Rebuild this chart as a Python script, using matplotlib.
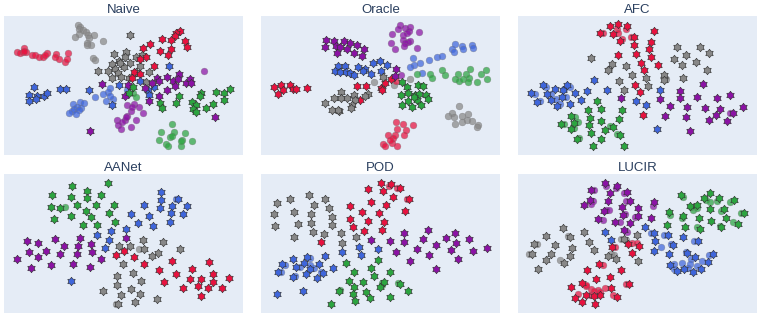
import matplotlib
matplotlib.use("Agg")
import numpy as np
import matplotlib.pyplot as plt
from matplotlib.path import Path

plt.rcParams['font.family'] = ['Liberation Sans', 'DejaVu Sans']

# t-SNE style positions, one dict per panel: colour -> (x, y) pairs
naive_circles = {
    'red': [(51,156),(60,160),(73,143),(70,157),(78,155),(96,164),(106,166),(116,172),(128,170),(141,158),(134,165),(168,162),(165,171),(176,178),(195,187),(200,177),(203,158),(72,152)],
    'gray': [(233,74),(240,80),(237,88),(248,90),(258,97),(237,103),(224,112),(265,106),(283,105),(267,115),(262,128),(272,135),(262,135),(309,124),(279,175),(286,179)],
    'blue': [(330,266),(325,278),(308,283),(284,292),(318,303),(340,297),(330,290),(239,308),(252,311),(218,313),(243,325),(232,322),(222,327),(215,335),(236,330),(228,343),(208,340),(382,272)],
    'purple': [(614,212),(381,315),(403,313),(418,322),(431,340),(395,333),(398,322),(381,348),(350,361),(409,361),(375,360),(365,368),(355,375),(362,388),(395,382),(378,352)],
    'green': [(517,373),(485,397),(478,420),(510,412),(522,398),(516,410),(556,400),(548,420),(576,423),(543,440),(498,434),(505,440),(545,425),(400,280),(410,291)],
}
naive_stars = {
    'gray': [(391,106),(341,161),(378,157),(376,170),(410,170),(427,166),(358,182),(335,193),(392,190),(325,212),(345,207),(373,202),(354,220),(293,214),(337,234),(362,232),(420,197),(449,216),(408,215),(388,235),(440,247),(360,190)],
    'red': [(540,92),(530,98),(526,108),(514,120),(487,117),(450,131),(431,143),(557,124),(561,140),(480,152),(513,148),(505,165),(438,171),(422,177),(463,197),(402,215),(421,221),(398,233)],
    'blue': [(103,262),(88,285),(110,288),(87,305),(107,297),(131,288),(141,281),(181,269),(198,268),(267,270),(357,256),(420,244),(508,199),(463,263),(445,272),(448,285),(336,316)],
    'purple': [(307,251),(386,255),(376,289),(435,264),(457,250),(472,234),(477,244),(502,230),(519,243),(538,221),(535,238),(558,248),(570,237),(575,248),(526,257),(503,271),(477,289),(447,304),(646,352),(269,395)],
    'green': [(400,261),(388,280),(537,289),(480,311),(487,324),(528,310),(603,281),(600,290),(578,307),(590,315),(581,328),(590,338),(618,325),(639,312),(649,277),(672,281),(690,267),(674,301)],
}

oracle_circles = {
    'purple': [(436,74),(428,88),(449,83),(465,80),(461,92),(455,100),(411,102),(493,96),(443,105),(443,120),(465,122),(458,125),(450,130),(448,138),(409,128),(420,148),(486,144),(437,225)],
    'blue': [(600,133),(590,148),(598,155),(620,138),(625,148),(650,135),(655,145),(545,172),(560,168),(522,180),(475,175),(494,190),(478,196),(465,200),(502,218)],
    'green': [(487,222),(526,223),(530,234),(562,210),(571,225),(608,222),(632,221),(646,207),(600,238),(611,243),(625,237),(642,235),(640,245),(665,246),(677,223),(692,211),(697,236)],
    'gray': [(613,320),(590,340),(578,350),(598,352),(620,348),(640,342),(600,372),(622,368),(635,360),(650,365),(668,375),(665,382),(355,246),(416,255),(465,237)],
    'red': [(423,367),(443,372),(475,375),(427,387),(452,390),(447,405),(400,405),(420,405),(413,415),(385,432),(390,440),(410,430),(427,440),(405,420),(423,243)],
}
oracle_stars = {
    'red': [(57,263),(76,255),(104,255),(112,268),(122,268),(82,272),(68,283),(156,266),(304,260),(332,260),(313,302),(378,265),(390,250),(409,237),(380,270)],
    'purple': [(212,120),(235,122),(208,142),(243,138),(265,124),(283,128),(255,142),(275,148),(304,134),(296,160),(325,148),(320,168),(246,159),(424,207),(419,227)],
    'blue': [(248,198),(268,198),(240,212),(254,215),(272,215),(285,220),(296,225),(308,200),(330,207),(347,222),(352,190),(373,183),(395,196),(378,212),(322,212)],
    'gray': [(258,277),(235,295),(210,309),(230,330),(250,335),(248,330),(256,295),(276,295),(296,285),(300,300),(290,315),(286,325),(337,282),(328,288),(385,232)],
    'green': [(440,247),(456,262),(490,255),(503,257),(437,287),(460,281),(480,285),(493,283),(512,287),(520,298),(485,302),(460,305),(440,317),(470,322),(497,315),(478,292)],
}

afc_circles = {
    'red': [(276,100),(318,88),(322,98),(345,87),(332,118),(360,112)],
    'blue': [(73,282),(88,305),(105,262),(120,283),(135,298),(148,312),(165,292),(178,262),(160,268)],
    'green': [(192,352),(202,368),(158,372),(190,385),(205,415),(298,380),(318,403)],
    'purple': [(658,340)],
    'gray': [(295,208),(465,238)],
}
afc_stars = {
    'red': [(297,78),(321,73),(349,79),(266,99),(306,101),(326,122),(370,110),(368,135),(420,125),(430,94),(416,148),(376,163),(422,171),(322,165),(390,188),(443,194),(400,210),(373,256),(388,277),(398,347)],
    'gray': [(241,175),(303,192),(290,210),(344,199),(362,226),(325,242),(407,234),(413,257),(338,270),(461,224),(460,240),(518,234),(498,141),(568,142),(594,158),(527,164),(490,176),(515,195),(556,187),(589,210)],
    'blue': [(97,255),(60,281),(79,308),(108,282),(131,268),(157,270),(169,255),(192,279),(120,302),(152,291),(137,318),(177,314),(211,302),(229,275),(248,240),(288,270),(375,305),(407,317),(449,272),(438,387)],
    'purple': [(331,296),(448,298),(509,274),(507,295),(578,253),(559,293),(620,295),(657,286),(477,318),(529,322),(583,325),(628,329),(698,321),(463,348),(525,351),(615,345),(595,360),(667,341),(648,364),(537,393)],
    'green': [(259,303),(231,331),(271,328),(332,332),(181,350),(238,356),(325,357),(271,363),(149,372),(190,370),(233,375),(181,388),(283,392),(306,382),(240,399),(327,405),(197,418),(271,417),(247,438),(339,440)],
}

aanet_circles = {
    'green': [(195,148)],
    'gray': [(417,277),(348,441)],
    'blue': [(530,125)],
}
aanet_stars = {
    'green': [(324,76),(215,85),(262,100),(155,113),(213,120),(262,123),(302,112),(152,149),(181,153),(232,144),(289,144),(342,142),(258,161),(273,178),(328,168),(161,184),(214,177),(346,193),(250,203),(292,204)],
    'blue': [(483,103),(484,128),(534,125),(518,145),(562,146),(480,152),(513,166),(549,169),(433,144),(395,171),(449,175),(415,196),(459,207),(510,194),(379,214),(333,222),(291,233),(326,247),(315,273),(212,372)],
    'purple': [(81,251),(115,257),(165,246),(192,266),(239,242),(235,266),(272,260),(378,243),(137,281),(86,286),(51,305),(114,300),(180,290),(231,291),(276,285),(303,307),(94,332),(154,323),(219,322),(269,330)],
    'gray': [(430,248),(490,254),(541,275),(357,266),(392,267),(432,275),(475,287),(458,297),(369,322),(400,347),(352,358),(425,371),(352,384),(393,395),(308,402),(363,415),(420,410),(472,425),(407,435),(353,441)],
    'red': [(349,294),(372,283),(402,301),(433,321),(518,311),(629,314),(478,340),(530,351),(578,337),(640,350),(570,367),(604,365),(492,374),(640,376),(594,388),(551,392),(624,394),(688,363),(666,394),(604,416)],
}

pod_circles = {
    'blue': [(90,323),(78,345),(135,330),(120,358),(165,303),(175,333),(197,345),(163,325)],
    'red': [(403,85),(425,93),(455,124)],
    'green': [(253,400),(382,378),(430,378),(380,385)],
}
pod_stars = {
    'red': [(376,77),(408,79),(337,94),(383,100),(434,91),(415,118),(461,124),(347,133),(394,142),(284,146),(450,160),(321,165),(372,168),(284,184),(339,190),(386,195),(293,208),(326,220),(380,219),(198,255)],
    'gray': [(162,112),(105,124),(208,125),(65,137),(176,143),(222,153),(115,165),(57,170),(166,171),(229,178),(167,196),(127,200),(60,205),(229,203),(172,225),(205,229),(256,228),(115,238),(303,238),(261,257)],
    'purple': [(520,218),(448,228),(600,226),(348,248),(404,252),(447,255),(505,246),(574,242),(643,244),(602,257),(544,264),(486,276),(422,286),(589,278),(696,272),(655,281),(521,295),(610,307),(464,312),(543,335)],
    'blue': [(311,270),(368,276),(259,284),(317,293),(208,297),(113,305),(155,300),(80,322),(146,318),(192,320),(122,330),(165,335),(233,332),(68,346),(204,347),(152,352),(114,359),(184,364),(65,411),(144,403)],
    'green': [(369,310),(272,319),(348,333),(297,345),(405,346),(355,358),(282,372),(322,376),(388,374),(435,380),(297,390),(374,390),(250,403),(331,405),(460,403),(294,412),(405,420),(345,424),(298,432),(227,441)],
}

lucir_circles = {
    'purple': [(248,98),(285,85),(315,92),(340,106),(247,130),(240,140),(345,132),(285,157),(295,157),(342,170),(372,178),(328,193),(275,187),(426,145),(348,225)],
    'green': [(518,120),(599,135),(585,128),(618,132),(658,134),(547,158),(558,152),(632,160),(478,172),(513,182),(692,168),(668,195),(558,210),(628,205),(540,150)],
    'blue': [(420,228),(460,233),(550,250),(450,270),(480,262),(525,285),(595,295),(540,305),(490,320),(515,318),(538,320),(575,312),(558,327),(532,332),(490,335)],
    'gray': [(78,262),(148,310),(330,245),(345,247),(300,292),(310,295),(55,290),(170,237)],
    'red': [(312,270),(362,257),(378,257),(275,324),(225,388),(240,395),(262,400),(282,392),(200,410),(225,385),(345,380),(305,415),(250,403),(238,413),(267,405)],
}
lucir_stars = {
    'purple': [(281,76),(319,85),(239,98),(296,108),(347,104),(236,127),(291,130),(357,130),(218,143),(430,135),(332,150),(382,152),(279,160),(337,173),(380,175),(422,183),(260,186),(311,193),(357,196),(340,219)],
    'green': [(510,112),(599,108),(581,121),(626,122),(671,129),(539,146),(560,143),(597,155),(640,155),(476,165),(518,176),(565,182),(699,168),(645,183),(602,191),(681,200),(470,203),(522,208),(568,215),(631,210)],
    'blue': [(404,209),(282,224),(429,226),(472,233),(517,238),(299,249),(433,250),(563,252),(488,264),(431,282),(528,287),(474,291),(606,291),(553,301),(478,323),(592,316),(519,335),(571,335),(499,341),(547,345)],
    'gray': [(155,213),(218,224),(105,235),(176,240),(338,245),(378,234),(68,260),(234,253),(131,265),(183,272),(248,280),(62,290),(121,290),(178,296),(290,297),(315,305),(104,309),(158,318),(381,312),(81,335)],
    'red': [(302,269),(352,262),(386,267),(364,287),(265,322),(229,340),(329,338),(298,359),(255,367),(214,377),(353,380),(180,390),(300,394),(224,413),(268,415),(249,418),(192,424),(319,421),(212,434),(253,441)],
}

titles = ['Naive', 'Oracle', 'AFC', 'AANet', 'POD', 'LUCIR']
all_circles = [naive_circles, oracle_circles, afc_circles, aanet_circles, pod_circles, lucir_circles]
all_stars = [naive_stars, oracle_stars, afc_stars, aanet_stars, pod_stars, lucir_stars]
x_ranges = [(12, 730), (17, 735), (21, 739), (12, 730), (17, 735), (21, 739)]
y_ranges = [(466, 48), (466, 48), (466, 48), (468, 50), (468, 50), (468, 50)]

colours = {'red': '#E8123F', 'blue': '#3F66DC', 'green': '#2CA540', 'purple': '#8B12A5', 'gray': '#888888'}

# fat six pointed star, the stock (6, 1, 0) marker is too thin for this one
angles = np.deg2rad(np.arange(12) * 30 + 90)
radii = np.where(np.arange(12) % 2 == 0, 1.0, 0.64)
star_verts = np.column_stack([radii * np.cos(angles), radii * np.sin(angles)])
star_marker = Path(np.vstack([star_verts, star_verts[:1]]), closed=True)

W, H = 761, 317
lefts = [4, 261, 518]
tops = [16, 174]
pw, ph = 239, 139

fig = plt.figure(figsize=(W / 100, H / 100), dpi=100)
for i in range(6):
    left = lefts[i % 3]
    top = tops[i // 3]
    ax = fig.add_axes([left / W, 1 - (top + ph) / H, pw / W, ph / H])
    ax.set_facecolor('#E5ECF6')
    for name, pts in all_circles[i].items():
        pts = np.array(pts)
        ax.scatter(pts[:, 0], pts[:, 1], s=24, c=colours[name], alpha=0.72,
                   edgecolors='#777777', linewidths=0.3, zorder=2)
    for name, pts in all_stars[i].items():
        pts = np.array(pts)
        ax.scatter(pts[:, 0], pts[:, 1], s=38, c=colours[name], marker=star_marker,
                   edgecolors='#333333', linewidths=0.45, zorder=3)
    ax.set_xlim(*x_ranges[i])
    ax.set_ylim(*y_ranges[i])
    ax.set_xticks([])
    ax.set_yticks([])
    for s in ax.spines.values():
        s.set_visible(False)
    ax.set_title(titles[i], fontsize=9.5, color='#2a3f5f', pad=1.2)

fig.savefig('out.png', dpi=100)
